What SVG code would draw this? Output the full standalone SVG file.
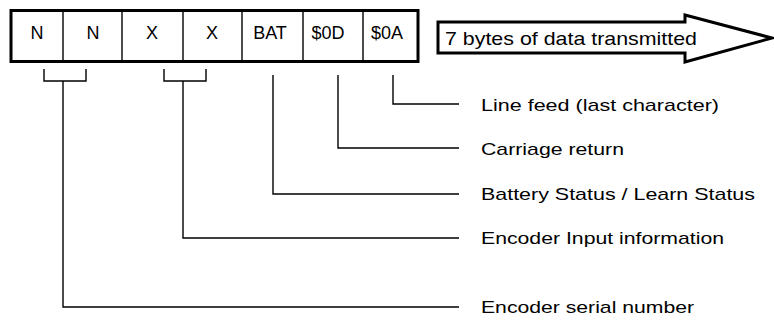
<svg xmlns="http://www.w3.org/2000/svg" width="774" height="320" viewBox="0 0 774 320">
<style>
.t{font-family:"Liberation Sans",Arial,sans-serif;fill:#000}
.cell{font-size:18px;text-anchor:middle}
.lbl{font-size:17px}
.ln{fill:none;stroke:#000;stroke-width:1.4}
</style>
<rect width="774" height="320" fill="#fff"/>
<g id="frame">
<rect x="11" y="10.5" width="407" height="51" fill="#fff" stroke="#000" stroke-width="3"/>
<g class="ln">
<line x1="63" y1="10.5" x2="63" y2="61.5"/>
<line x1="122" y1="10.5" x2="122" y2="61.5"/>
<line x1="183" y1="10.5" x2="183" y2="61.5"/>
<line x1="242" y1="10.5" x2="242" y2="61.5"/>
<line x1="303" y1="10.5" x2="303" y2="61.5"/>
<line x1="363" y1="10.5" x2="363" y2="61.5"/>
</g>
</g>
<g id="cells" class="t cell">
<text x="37" y="38.5">N</text>
<text x="93" y="38.5">N</text>
<text x="152" y="38.5">X</text>
<text x="212" y="38.5">X</text>
<text x="270" y="38.5">BAT</text>
<text x="328" y="38.5">$0D</text>
<text x="387" y="38.5">$0A</text>
</g>
<g id="arrow">
<path d="M438,22 H685 V15 L772,38 L685,62 V53 H438 Z" fill="#fff" stroke="#000" stroke-width="3" stroke-linejoin="miter"/>
<text class="t" x="445" y="45" font-size="19" textLength="252" lengthAdjust="spacingAndGlyphs">7 bytes of data transmitted</text>
</g>
<g id="connectors" class="ln">
<polyline points="44,69 44,81 86,81 86,69"/>
<polyline points="63,81 63,307 459,307"/>
<polyline points="164,69 164,81 206,81 206,69"/>
<polyline points="183,81 183,238 459,238"/>
<polyline points="273,75 273,194 459,194"/>
<polyline points="338,75 338,148 459,148"/>
<polyline points="393,75 393,104 459,104"/>
</g>
<g id="labels" class="t lbl">
<text id="lf" x="481" y="110.5" textLength="238" lengthAdjust="spacingAndGlyphs">Line feed (last character)</text>
<text id="cr" x="481" y="154.5" textLength="143" lengthAdjust="spacingAndGlyphs">Carriage return</text>
<text id="bat" x="481" y="200" textLength="274" lengthAdjust="spacingAndGlyphs">Battery Status / Learn Status</text>
<text id="enc" x="481" y="244" textLength="243" lengthAdjust="spacingAndGlyphs">Encoder Input information</text>
<text id="ser" x="481" y="313" textLength="213" lengthAdjust="spacingAndGlyphs">Encoder serial number</text>
</g>
</svg>
